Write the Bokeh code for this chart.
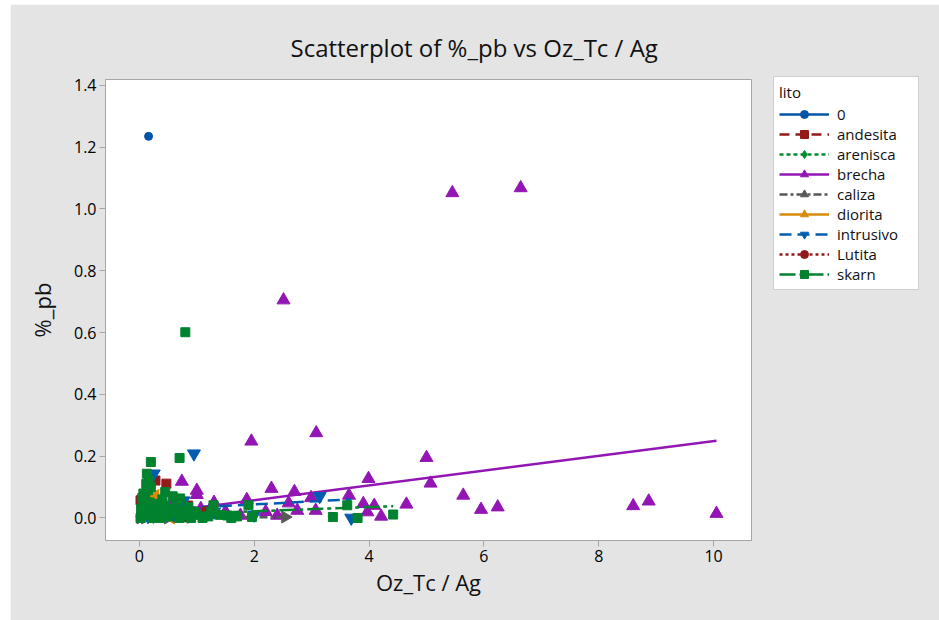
import math
from bokeh.plotting import figure
from bokeh.models import (ColumnDataSource, Legend, LegendItem, Range1d,
                          FixedTicker, PrintfTickFormatter)
from bokeh.embed import file_html
from bokeh.resources import INLINE

# ---------------- data ----------------
groups = ["0", "andesita", "arenisca", "brecha", "caliza", "diorita",
          "intrusivo", "Lutita", "skarn"]

x_0 = [0.16]
y_0 = [1.235]

x_andesita = [0.47, 0.28, 0.12, 0.30, 0.05, 0.20, 0.02, 0.85]
y_andesita = [0.111, 0.121, 0.070, 0.030, 0.010, 0.050, 0.057, 0.040]

x_arenisca = [0.10, 0.35, 0.60, 0.20]
y_arenisca = [0.020, 0.040, 0.010, 0.060]

x_brecha = [5.45, 6.64, 2.51, 1.95, 3.08, 5.00, 5.07, 3.99, 2.30, 2.70,
            0.74, 1.00, 3.65, 4.65, 5.64, 5.95, 6.24, 8.60, 8.87, 10.05,
            2.99, 2.60, 2.75, 3.07, 3.90, 3.97, 4.09, 4.21, 1.87, 2.40,
            0.54, 1.07, 1.76, 1.00, 1.50, 0.90, 1.20, 0.30, 2.20, 1.30]
y_brecha = [1.052, 1.068, 0.705, 0.248, 0.275, 0.195, 0.112, 0.127, 0.095, 0.085,
            0.118, 0.089, 0.073, 0.044, 0.073, 0.027, 0.035, 0.039, 0.054, 0.014,
            0.065, 0.048, 0.024, 0.024, 0.046, 0.019, 0.040, 0.005, 0.059, 0.008,
            0.040, 0.030, 0.008, 0.075, 0.020, 0.010, 0.015, 0.020, 0.020, 0.050]

x_caliza = [2.54, 0.10, 0.50, 0.30, 0.90, 0.02]
y_caliza = [0.003, 0.000, 0.000, 0.002, 0.002, 0.000]

x_diorita = [0.28, 0.15, 0.55, 0.40, 0.05]
y_diorita = [0.073, 0.020, 0.000, 0.010, 0.005]

x_intrusivo = [0.95, 3.14, 3.69, 0.25, 0.35, 0.60, 0.15, 1.30, 2.00, 0.77]
y_intrusivo = [0.208, 0.070, 0.000, 0.143, 0.030, 0.010, 0.005, 0.020, 0.010, 0.056]

x_lutita = [0.10, 0.20, 0.40, 0.60, 0.80, 1.15]
y_lutita = [0.010, 0.030, 0.005, 0.020, 0.000, 0.024]

x_skarn = [0.80, 0.20, 0.70, 0.13, 0.17, 0.07, 0.45, 0.71, 1.29, 1.90,
           1.53, 1.96, 3.62, 3.37, 3.80, 4.42, 0.02, 0.05, 0.08, 0.10,
           0.12, 0.15, 0.18, 0.20, 0.22, 0.25, 0.28, 0.30, 0.33, 0.36,
           0.40, 0.45, 0.50, 0.55, 0.60, 0.65, 0.70, 0.75, 0.80, 0.85,
           0.90, 0.95, 1.00, 1.10, 1.20, 1.25, 1.40, 1.60, 1.70, 0.15,
           0.12, 0.05, 0.03, 0.40, 0.58]
y_skarn = [0.601, 0.181, 0.194, 0.143, 0.121, 0.079, 0.084, 0.063, 0.041, 0.041,
           0.008, 0.003, 0.041, 0.003, 0.000, 0.011, 0.000, 0.020, 0.040, 0.060,
           0.010, 0.030, 0.050, 0.100, 0.000, 0.020, 0.045, 0.010, 0.030, 0.000,
           0.020, 0.040, 0.005, 0.030, 0.015, 0.050, 0.000, 0.025, 0.010, 0.035,
           0.000, 0.020, 0.010, 0.000, 0.005, 0.020, 0.010, 0.000, 0.005, 0.090,
           0.110, 0.065, 0.030, 0.060, 0.070]

# fitted line end points per group (group "0" has a single point)
fit_x_start = [0.16, 0.02, 0.10, 0.00, 0.02, 0.05, 0.15, 0.10, 0.00]
fit_x_end = [0.16, 0.85, 0.60, 10.05, 2.54, 0.55, 3.69, 1.15, 4.42]
fit_y_start = [1.235, 0.060, 0.030, 0.0094, 0.005, 0.030, 0.026, 0.012, 0.008]
fit_y_end = [1.235, 0.050, 0.020, 0.250, 0.002, 0.010, 0.060, 0.012, 0.038]

y_ticks = [0.0, 0.2, 0.4, 0.6, 0.8, 1.0, 1.2, 1.4]
x_ticks = [0, 2, 4, 6, 8, 10]

# ---------------- styles ----------------
xs = [x_0, x_andesita, x_arenisca, x_brecha, x_caliza, x_diorita,
      x_intrusivo, x_lutita, x_skarn]
ys = [y_0, y_andesita, y_arenisca, y_brecha, y_caliza, y_diorita,
      y_intrusivo, y_lutita, y_skarn]
colors = ["#0054a6", "#931a1a", "#008a2f", "#9316b4", "#585858", "#d98b0a",
          "#005cb0", "#931a1a", "#00822e"]
markers = ["circle", "square", "diamond", "triangle", "triangle", "triangle",
           "inverted_triangle", "circle", "square"]
angles = [0, 0, 0, 0, -math.pi / 2, math.pi / 2, 0, 0, 0]
sizes = [8, 9, 11, 13, 12, 12, 13, 8, 9]
dashes = ["solid", "10 6", "4 3", "solid", "8 3 3 3", "solid", "12 6", "3 3", "16 4 4 4"]

BG = "#e4e4e4"
FONT = "Open Sans"

p = figure(frame_width=646, frame_height=461, output_backend="svg",
           toolbar_location=None,
           x_range=Range1d(-0.59, 10.66), y_range=Range1d(-0.073, 1.419),
           min_border_left=95, min_border_right=188, min_border_top=75,
           min_border_bottom=80, margin=(4, 0, 0, 10),
           title="Scatterplot of %_pb vs Oz_Tc / Ag")
p.border_fill_color = BG
p.background_fill_color = "white"
p.outline_line_color = "#a6a6a6"
p.grid.visible = False

p.title.align = "left"
p.title.offset = 185
p.title.standoff = 31
p.title.text_font = FONT
p.title.text_font_size = "24px"
p.title.text_font_style = "normal"
p.title.text_color = "#111111"

for ax in (p.xaxis, p.yaxis):
    ax.axis_line_color = "#a6a6a6"
    ax.major_tick_line_color = "#a6a6a6"
    ax.major_tick_out = 6
    ax.major_tick_in = 0
    ax.minor_tick_out = 0
    ax.minor_tick_in = 0
    ax.major_label_text_font = FONT
    ax.major_label_text_font_size = "16px"
    ax.major_label_text_color = "#000000"
    ax.axis_label_text_font = FONT
    ax.axis_label_text_font_size = "22px"
    ax.axis_label_text_font_style = "normal"
    ax.axis_label_text_color = "#111111"
    ax.major_label_standoff = 3

p.xaxis.ticker = FixedTicker(ticks=x_ticks)
p.yaxis.ticker = FixedTicker(ticks=y_ticks)
p.yaxis.formatter = PrintfTickFormatter(format="%.1f")
p.xaxis.axis_label = "Oz_Tc / Ag"
p.yaxis.axis_label = "%_pb"
p.xaxis.axis_label_standoff = 2
p.yaxis.axis_label_standoff = 14

items = []
for i, g in enumerate(groups):
    lsrc = ColumnDataSource(dict(x=[fit_x_start[i], fit_x_end[i]],
                                 y=[fit_y_start[i], fit_y_end[i]]))
    lr = p.line("x", "y", source=lsrc, line_color=colors[i], line_width=2.5,
                line_dash=dashes[i])
    src = ColumnDataSource(dict(x=xs[i], y=ys[i]))
    sr = p.scatter("x", "y", source=src, marker=markers[i], size=sizes[i],
                   angle=angles[i], fill_color=colors[i], line_color=colors[i])
    items.append(LegendItem(label=g, renderers=[lr, sr]))

legend = Legend(items=items, title="lito", location=(22, 250),
                title_text_font=FONT, title_text_font_size="15px",
                title_text_font_style="normal", title_text_color="#111111",
                label_text_font=FONT, label_text_font_size="15px",
                label_text_color="#111111",
                glyph_width=50, glyph_height=20, label_height=20,
                spacing=0, padding=5, label_standoff=8, label_width=76,
                title_standoff=2, margin=0,
                border_line_color="#a0a0a0", background_fill_color="white",
                background_fill_alpha=1.0)
p.add_layout(legend, "right")

open("out.html", "w").write(file_html(p, INLINE))
